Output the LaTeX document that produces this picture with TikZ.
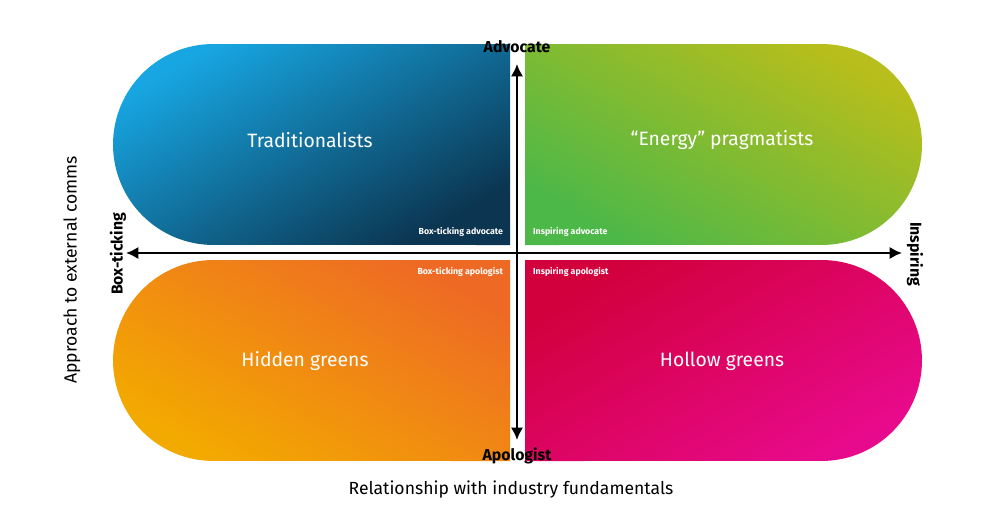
\documentclass[tikz,border=0pt]{standalone}
\usepackage{fontspec}
\setmainfont{Fira Sans}
\usetikzlibrary{arrows.meta}
\definecolor{tlA}{HTML}{17A6E2}
\definecolor{tlB}{HTML}{0B3550}
\definecolor{trA}{HTML}{B8BE1B}
\definecolor{trB}{HTML}{4CB848}
\definecolor{blA}{HTML}{F3AA00}
\definecolor{blB}{HTML}{EE6A24}
\definecolor{brA}{HTML}{D2003C}
\definecolor{brB}{HTML}{E80A8C}
\begin{document}
\begin{tikzpicture}[x=0.02cm,y=0.02cm]
\tikzstyle{quad}=[text=white,font=\fontsize{11}{13}\selectfont]
\tikzstyle{tag}=[text=white,font=\bfseries\tiny,inner sep=1pt]
\tikzstyle{pole}=[font=\bfseries\small,inner sep=1pt]
\tikzstyle{axis}=[line width=1.3pt,{Latex[length=7pt,width=7pt]}-{Latex[length=7pt,width=7pt]}]
\useasboundingbox[fill=white] (0,0) rectangle (1000,522);
%
\shade[left color=tlA,right color=tlB,shading angle=30] (510,478) -- (213.5,478) arc[start angle=90,end angle=270,radius=2.01cm] -- (510,277) -- cycle;
\shade[left color=trA,right color=trB,shading angle=-30] (525,478) -- (821.5,478) arc[start angle=90,end angle=-90,radius=2.01cm] -- (525,277) -- cycle;
\shade[left color=blB,right color=blA,shading angle=-30] (510,262) -- (213.5,262) arc[start angle=90,end angle=270,radius=2.01cm] -- (510,61) -- cycle;
\shade[left color=brA,right color=brB,shading angle=30] (525,262) -- (821.5,262) arc[start angle=90,end angle=-90,radius=2.01cm] -- (525,61) -- cycle;
%
\node[quad](trad) at (310,382){Traditionalists};
\node[quad](prag) at (722,382){“Energy” pragmatists};
\node[quad](hidden) at (305,161){Hidden greens};
\node[quad](hollow) at (722,161){Hollow greens};
%
\node[tag,anchor=east](bta) at (505,290){Box-ticking advocate};
\node[tag,anchor=west](ia) at (531,290){Inspiring advocate};
\node[tag,anchor=east](btp) at (505,250){Box-ticking apologist};
\node[tag,anchor=west](ip) at (531,250){Inspiring apologist};
%
\node[pole](adv) at (517,475){Advocate};
\node[pole](apo) at (517,66){Apologist};
\node[pole,rotate=90](box) at (118,268){Box-ticking};
\node[pole,rotate=-90](insp) at (915,268){Inspiring};
%
\coordinate(vtop) at (517,458);
\coordinate(vbot) at (517,82);
\coordinate(hl) at (126,269);
\coordinate(hr) at (902,269);
\draw[axis] (vbot) -- (vtop);
\draw[axis] (hl) -- (hr);
%
\node[rotate=90](yl) at (72,252){Approach to external comms};
\node[](xl) at (511,32){Relationship with industry fundamentals};
\end{tikzpicture}
\end{document}
